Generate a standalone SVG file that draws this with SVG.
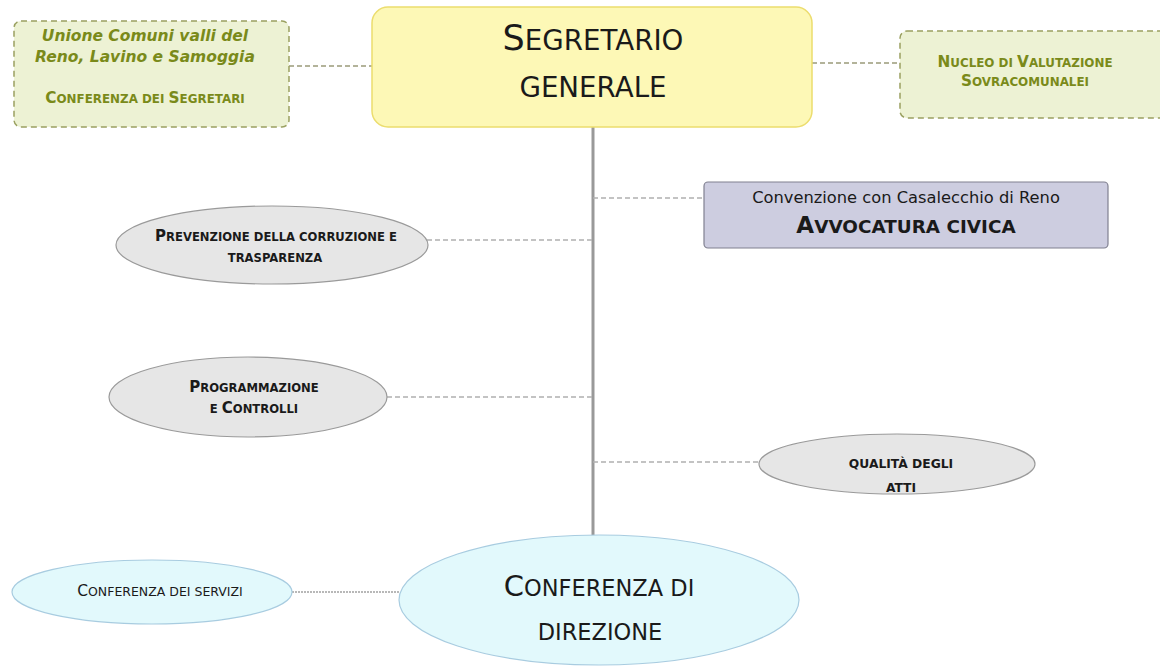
<svg xmlns="http://www.w3.org/2000/svg" width="1160" height="667" viewBox="0 0 1160 667">
<style>
text{font-family:"DejaVu Sans","Noto Sans",sans-serif;text-anchor:middle;fill:#1a1a1a}
.olive{fill:#7a8a1a;font-weight:bold}
.green{fill:#edf2d4;stroke:#9aa060;stroke-width:1.5;stroke-dasharray:6 4}
.gray{fill:#e6e6e6;stroke:#9a9a9a;stroke-width:1.2}
.cyan{fill:#e2f9fc;stroke:#a8cce0;stroke-width:1.2}
.dash{stroke:#b0b0b0;stroke-width:1.3;stroke-dasharray:5 3;fill:none}
.lbl{font-size:11.6px;font-weight:bold}
.lbl .c{font-size:15px}
.ol{font-size:11.9px}
.ol .c{font-size:15.3px}
.big{font-size:27.7px}
.big .c{font-size:35px}
</style>
<rect width="1160" height="667" fill="#fff"/>
<g id="connectors">
<line x1="593" y1="127" x2="593" y2="537" stroke="#999" stroke-width="3"/>
<line class="dash" x1="289" y1="66" x2="372" y2="66" style="stroke:#9a9a7a"/>
<line class="dash" x1="812" y1="63" x2="900" y2="63" style="stroke:#9a9a7a"/>
<line class="dash" x1="593" y1="198" x2="704" y2="198"/>
<line class="dash" x1="427" y1="240" x2="593" y2="240"/>
<line class="dash" x1="387" y1="397" x2="593" y2="397"/>
<line class="dash" x1="593" y1="462" x2="759" y2="462"/>
<line x1="292" y1="592" x2="400" y2="592" stroke="#b8b8b8" stroke-width="2" stroke-dasharray="2 1"/>
</g>
<g id="unione">
<rect class="green" x="14" y="21" width="275" height="106" rx="7"/>
<text class="olive" x="145" y="41" font-size="15.5" font-style="italic">Unione Comuni valli del</text>
<text class="olive" x="145" y="62" font-size="15.5" font-style="italic">Reno, Lavino e Samoggia</text>
<text class="olive ol" x="145" y="103"><tspan class="c">C</tspan>ONFERENZA DEI <tspan class="c">S</tspan>EGRETARI</text>
</g>
<g id="segretario">
<rect x="372" y="7" width="440" height="120" rx="16" fill="#fdf8b6" stroke="#ecdd6e" stroke-width="1.5"/>
<text class="big" x="593" y="50"><tspan class="c">S</tspan>EGRETARIO</text>
<text class="big" x="593" y="97">GENERALE</text>
</g>
<g id="nucleo">
<rect class="green" x="900" y="31" width="270" height="87" rx="7"/>
<text class="olive ol" x="1025" y="67"><tspan class="c">N</tspan>UCLEO DI <tspan class="c">V</tspan>ALUTAZIONE</text>
<text class="olive ol" x="1025" y="86"><tspan class="c">S</tspan>OVRACOMUNALEI</text>
</g>
<g id="avvocatura">
<rect x="704" y="182" width="404" height="66" rx="4" fill="#cdcde0" stroke="#808090" stroke-width="1.2"/>
<text x="906" y="203" font-size="16.3">Convenzione con Casalecchio di Reno</text>
<text x="906" y="233" font-size="18.4" font-weight="bold"><tspan font-size="23">A</tspan>VVOCATURA CIVICA</text>
</g>
<g id="prevenzione">
<ellipse class="gray" cx="272" cy="245" rx="156" ry="39"/>
<text class="lbl" x="276" y="241"><tspan class="c">P</tspan>REVENZIONE DELLA CORRUZIONE E</text>
<text class="lbl" x="275" y="262">TRASPARENZA</text>
</g>
<g id="programmazione">
<ellipse class="gray" cx="248" cy="397" rx="139" ry="40"/>
<text class="lbl" x="254" y="392"><tspan class="c">P</tspan>ROGRAMMAZIONE</text>
<text class="lbl" x="254" y="413">E <tspan class="c">C</tspan>ONTROLLI</text>
</g>
<g id="qualita">
<ellipse class="gray" cx="897" cy="464" rx="138" ry="30"/>
<text x="901" y="468" font-size="12.3" font-weight="bold">QUALITÀ DEGLI</text>
<text x="901" y="492" font-size="12.3" font-weight="bold">ATTI</text>
</g>
<g id="direzione">
<ellipse class="cyan" cx="599" cy="600" rx="200" ry="65"/>
<text x="599" y="596" font-size="22.5"><tspan font-size="29">C</tspan>ONFERENZA DI</text>
<text x="600" y="640" font-size="22.5">DIREZIONE</text>
</g>
<g id="servizi">
<ellipse class="cyan" cx="152" cy="592" rx="140" ry="32"/>
<text x="160" y="596" font-size="12.5"><tspan font-size="15.5">C</tspan>ONFERENZA DEI SERVIZI</text>
</g>
</svg>
